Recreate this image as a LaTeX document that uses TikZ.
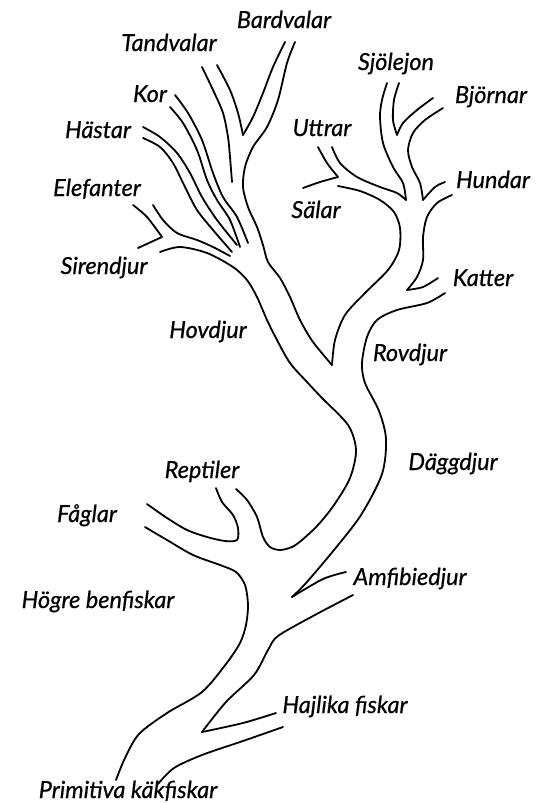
\documentclass[tikz,border=0pt]{standalone}
\usepackage{fontspec}
\setmainfont{Lato}[ItalicFeatures={FakeBold=0.6}]
\begin{document}
\begin{tikzpicture}[x=1pt,y=-1pt,
  lbl/.style={font=\itshape\fontsize{23.5}{26}\selectfont, inner sep=0pt, anchor=base},
  br/.style={line width=1.8pt, line cap=round, line join=round}]
\useasboundingbox (0,0) rectangle (542,803);
% labels
\node[lbl] (bard) at (284,28) {Bardvalar};
\node[lbl] (tand) at (169,51) {Tandvalar};
\node[lbl] (kor) at (150,102) {Kor};
\node[lbl] (hast) at (98,138) {Hästar};
\node[lbl] (elef) at (97,196) {Elefanter};
\node[lbl] (sir) at (104,274) {Sirendjur};
\node[lbl] (sjol) at (396,70) {Sjölejon};
\node[lbl] (bjor) at (491,103) {Björnar};
\node[lbl] (uttr) at (322,136) {Uttrar};
\node[lbl] (hund) at (493,188) {Hundar};
\node[lbl] (sal) at (316,218) {Sälar};
\node[lbl] (katt) at (483,286) {Katter};
\node[lbl] (hovd) at (208,338) {Hovdjur};
\node[lbl] (rovd) at (410,361) {Rovdjur};
\node[lbl] (dagg) at (453,470) {Däggdjur};
\node[lbl] (rept) at (202,478) {Reptiler};
\node[lbl] (fagl) at (87,522) {Fåglar};
\node[lbl] (amfi) at (410,585) {Amfibiedjur};
\node[lbl] (hogr) at (98,608) {Högre benfiskar};
\node[lbl] (hajl) at (345,713) {Hajlika fiskar};
\node[lbl] (prim) at (128,798) {Primitiva käkfiskar};
% whales
\draw[br] plot[smooth] coordinates {(202,67) (213,90) (223,113) (228,137) (230,157) (232,182)};
\draw[br] plot[smooth] coordinates {(217,65) (230,90) (238,113) (243,135)};
\draw[br] plot[smooth] coordinates {(243,135) (253,117) (263,93) (273,67) (285,42)};
% Bardvalar right -> Hovdjur right edge
\draw[br] plot[smooth] coordinates {(295,42) (287,63) (278,100) (267,127) (253,147) (245,167) (243,187) (248,207) (257,227) (263,245) (268,262) (280,278) (290,297) (300,320) (313,342) (332,365)};
% Rovdjur left edge -> Salar lower
\draw[br] plot[smooth] coordinates {(332,365) (335,340) (345,315) (365,293) (388,270) (399,250) (400,228) (394,212) (380,200) (360,191) (338,186)};
% Uttrar / Salar
\draw[br] plot[smooth] coordinates {(318,147) (327,163) (338,177)};
\draw[br] plot[smooth] coordinates {(303,188) (320,182) (338,177)};
\draw[br] plot[smooth] coordinates {(332,147) (340,163) (357,177) (380,187) (397,193) (406,200)};
\draw[br] plot[smooth] coordinates {(406,200) (403,183) (393,167) (383,143) (380,117) (382,100) (387,83)};
\draw[br] plot[smooth] coordinates {(399,83) (394,100) (393,120) (397,135)};
\draw[br] plot[smooth] coordinates {(397,135) (403,123) (417,110) (433,98)};
\draw[br] plot[smooth] coordinates {(443,108) (425,120) (413,133) (408,150) (412,167) (420,183) (423,200)};
\draw[br] plot[smooth] coordinates {(423,200) (435,187) (445,182)};
\draw[br] plot[smooth] coordinates {(452,195) (437,203) (427,217) (423,237) (423,260) (417,277) (407,290)};
\draw[br] plot[smooth] coordinates {(407,290) (423,287) (438,278)};
% Katter lower -> trunk right edge
\draw[br] plot[smooth] coordinates {(445,293) (427,303) (397,310) (377,320) (367,337) (362,363) (365,383) (379,411) (386,439) (382,474) (361,515) (334,550) (306,583) (292,597)};
\draw[br] plot[smooth] coordinates {(292,597) (323,579) (346,572)};
% Amfibiedjur lower / Hajlika
\draw[br] plot[smooth] coordinates {(353,595) (313,616) (278,636) (268,650) (254,675) (226,702) (202,732)};
\draw[br] plot[smooth] coordinates {(202,732) (243,723) (276,713)};
\draw[br] plot[smooth] coordinates {(283,727) (243,741) (202,755) (174,768) (158,784)};
% Faglar lower -> left trunk
\draw[br] plot[smooth] coordinates {(145,527) (167,540) (193,555) (220,565) (236,572) (245,585) (248,605) (246,625) (240,643) (226,664) (202,692) (167,713) (139,734) (125,758) (116,780)};
% Faglar upper / Reptiler left
\draw[br] plot[smooth] coordinates {(216,488) (222,502) (233,515) (238,528) (237,540) (225,541) (207,537) (187,530) (167,518) (147,504)};
% Reptiler right -> Daggdjur left -> Hovdjur left -> Sirendjur lower
\draw[br] plot[smooth] coordinates {(236,489) (247,500) (257,517) (263,537) (270,547) (280,550) (292,547) (302,540) (318,525) (334,505) (350,478) (356,450) (348,425) (322,398) (307,382) (290,363) (277,340) (267,320) (257,297) (247,280) (233,267) (207,253) (180,247) (160,252)};
% Elefanter / Sirendjur
\draw[br] plot[smooth] coordinates {(153,205) (163,220) (177,233) (197,240) (213,247) (230,256)};
\draw[br] plot[smooth] coordinates {(133,205) (147,217) (162,237)};
\draw[br] plot[smooth] coordinates {(162,237) (138,248)};
% Kor, Hastar
\draw[br] plot[smooth] coordinates {(175,95) (188,113) (202,140) (213,173) (223,197) (237,217) (248,243)};
\draw[br] plot[smooth] coordinates {(170,107) (183,123) (197,150) (207,180) (217,200) (230,220) (240,247)};
\draw[br] plot[smooth] coordinates {(143,127) (160,137) (177,153) (190,173) (202,197) (217,220) (237,245)};
\draw[br] plot[smooth] coordinates {(143,138) (160,147) (173,163) (185,187) (197,210) (213,230) (232,252)};
\end{tikzpicture}
\end{document}
